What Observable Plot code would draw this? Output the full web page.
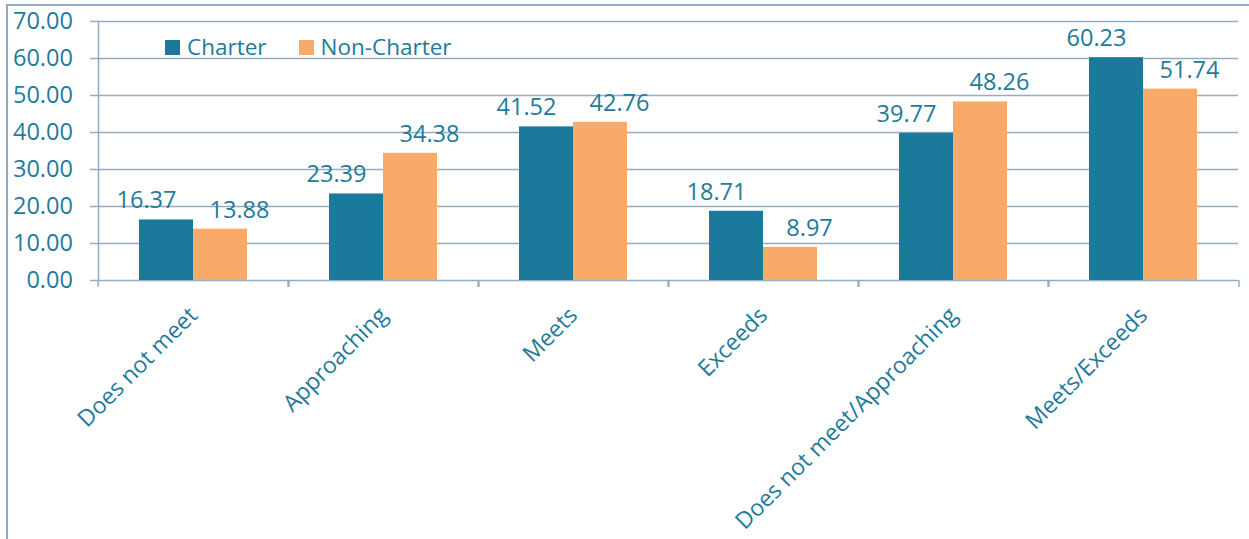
<!DOCTYPE html>
<html>
<head>
<meta charset="utf-8">
<script src="https://cdn.jsdelivr.net/npm/d3@7"></script>
<script src="https://cdn.jsdelivr.net/npm/@observablehq/plot@0.6"></script>
<style>
  html, body { margin: 0; padding: 0; background: #ffffff; overflow: hidden; }
  #wrap { position: relative; width: 1249px; height: 539px; overflow: hidden; font-family: 'Open Sans', sans-serif; }
  #border { position: absolute; left: 6px; top: 3.7px; right: -4px; bottom: -4px; border-left: 2px solid #93acc2; border-top: 2px solid #93acc2; pointer-events: none; }
  #chart { position: absolute; left: -1.7px; top: 0; }
  #legend { position: absolute; left: 165px; top: 32px; display: flex; align-items: center; font-size: 22.5px; color: #1e7b9b; line-height: 30px; }
  .item { display: flex; align-items: center; }
  .sw { width: 15px; height: 15px; margin-right: 7px; }
</style>
</head>
<body>
<div id="wrap">
  <div id="chart"></div>
  <div id="border"></div>
  <div id="legend"></div>
</div>
<script>
const categories = ["Does not meet", "Approaching", "Meets", "Exceeds", "Does not meet/Approaching", "Meets/Exceeds"];
const series = ["Charter", "Non-Charter"];
const charterValues = [16.37, 23.39, 41.52, 18.71, 39.77, 60.23];
const nonCharterValues = [13.88, 34.38, 42.76, 8.97, 48.26, 51.74];
const yTicks = [0, 10, 20, 30, 40, 50, 60, 70];

const teal = "#1b7a9b";
const orange = "#f9aa68";
const textColor = "#1e7b9b";
const gridColor = "#93acc2";

const rows = categories.flatMap((c, i) => [
  {category: c, series: "Charter", value: charterValues[i]},
  {category: c, series: "Non-Charter", value: nonCharterValues[i]}
]);

const W = 1249, H = 539, mL = 97, mR = 6.8, mT = 21, mB = 259;
const halfStep = (W - mL - mR) / categories.length / 2;

const chart = Plot.plot({
  width: W,
  height: H,
  marginLeft: mL,
  marginRight: mR,
  marginTop: mT,
  marginBottom: mB,
  style: {fontFamily: "'Open Sans', sans-serif", fontSize: "23px", color: textColor, background: "transparent", overflow: "visible"},
  fx: {domain: categories, padding: 0, label: null, axis: null},
  x: {domain: series, paddingInner: 0, paddingOuter: 0.75, axis: null},
  y: {domain: [0, 70], label: null, axis: null},
  color: {domain: series, range: [teal, orange]},
  marks: [
    Plot.ruleY(yTicks, {stroke: gridColor, strokeWidth: 1.5}),
    Plot.frame({anchor: "left", facetAnchor: "left", stroke: gridColor, strokeWidth: 1.5}),
    Plot.axisY({ticks: yTicks, tickFormat: d3.format(".2f"), tickSize: 8, tickPadding: 17.6, fontSize: 23.5, stroke: gridColor, strokeWidth: 1.5, fill: textColor, label: null}),
    Plot.barY(rows, {fx: "category", x: "series", y: "value", fill: "series"}),
    Plot.text(rows.filter(d => d.series === "Charter"), {fx: "category", x: "series", y: "value", text: d => d.value.toFixed(2), fontSize: 23.5, dx: -20, dy: -11.5, lineAnchor: "bottom", fill: textColor}),
    Plot.text(rows.filter(d => d.series === "Non-Charter"), {fx: "category", x: "series", y: "value", text: d => d.value.toFixed(2), fontSize: 23.5, dx: 19, dy: -11.5, lineAnchor: "bottom", fill: textColor}),
    Plot.axisFx({anchor: "bottom", tickSize: 0, tickRotate: -45, tickPadding: 31, fontSize: 23, label: null, fill: textColor}),
    Plot.axisFx({anchor: "bottom", tickSize: 7, tickFormat: () => "", dx: -halfStep, stroke: gridColor, strokeWidth: 1.5, label: null}),
    Plot.axisFx({anchor: "bottom", tickSize: 7, tickFormat: () => "", dx: halfStep, stroke: gridColor, strokeWidth: 1.5, label: null})
  ]
});
document.getElementById("chart").appendChild(chart);

const legend = document.getElementById("legend");
const colors = [teal, orange];
series.forEach((s, i) => {
  const item = document.createElement("div");
  item.className = "item";
  if (i > 0) item.style.marginLeft = "32px";
  const sw = document.createElement("div");
  sw.className = "sw";
  sw.style.background = colors[i];
  const t = document.createElement("span");
  t.textContent = s;
  item.appendChild(sw);
  item.appendChild(t);
  legend.appendChild(item);
});
</script>
</body>
</html>
